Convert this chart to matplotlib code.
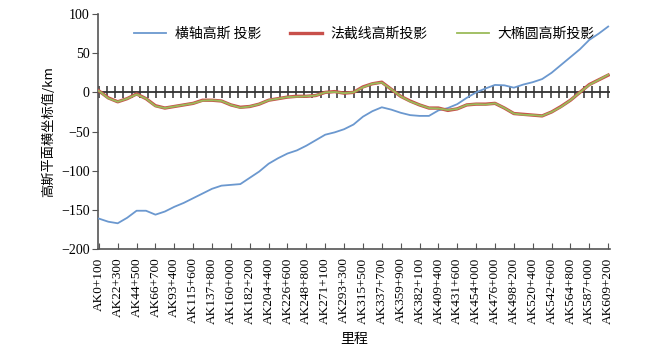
import numpy as np
import matplotlib
matplotlib.use("Agg")
import matplotlib.pyplot as plt

plt.rcParams['font.family'] = ['Liberation Serif', 'Noto Sans CJK SC', 'DejaVu Sans']

labels = ["AK0+100", "AK22+300", "AK44+500", "AK66+700", "AK93+400", "AK115+600",
          "AK137+800", "AK160+000", "AK182+200", "AK204+400", "AK226+600", "AK248+800",
          "AK271+100", "AK293+300", "AK315+500", "AK337+700", "AK359+900", "AK382+100",
          "AK409+400", "AK431+600", "AK454+000", "AK476+000", "AK498+200", "AK520+400",
          "AK542+600", "AK564+800", "AK587+000", "AK609+200"]

# sample positions measured in label steps (half-step sampling)
pos = np.arange(0, 27.01, 0.5)

tm_gauss = [-161, -165, -167, -160, -151, -151, -156, -152, -146, -141,
            -135, -129, -123, -119, -118, -117, -109, -101, -91, -84,
            -78, -74, -68, -61, -54, -51, -47, -41, -31, -24,
            -19, -22, -26, -29, -30, -30, -23, -20, -15, -7,
            0, 5, 9.5, 9, 6, 10, 13, 17, 25, 35,
            45, 55, 67, 75, 84]

normal_gauss = [2, -7, -12, -8, -2, -8, -17, -20, -18, -16,
                -14, -10, -10, -11, -16, -19, -18, -15, -10, -8,
                -6, -5, -5, -4, 0, 1, -1, 0, 7, 11,
                13, 4, -5, -11, -16, -20, -20, -23, -21, -16,
                -15, -15, -14, -20, -27, -28, -29, -30, -25, -18,
                -10, 0, 10, 16, 22]

ellipse_gauss = [2, -7.5, -12, -8, -2.5, -8, -17.5, -20, -18, -16,
                 -14, -10.5, -10, -11, -16, -19.5, -18, -15, -10, -8,
                 -6, -5.5, -5, -4, 0, 0.5, -1, 0, 6.5, 11,
                 12.5, 4, -5, -11.5, -16, -20, -20.5, -22.5, -21, -16,
                 -15, -15.5, -14, -20, -27, -28.5, -29, -30, -25, -18.5,
                 -10, 0, 9.5, 16, 22.5]

series_names = ["横轴高斯 投影", "法截线高斯投影", "大椭圆高斯投影"]

fig = plt.figure(figsize=(6.66, 3.59), dpi=100)
ax = fig.add_axes([0.147, 0.306, 0.769, 0.655])

ax.plot(pos, tm_gauss, color='#6b98cf', lw=1.3, label=series_names[0], zorder=3)
ax.plot(pos, normal_gauss, color='#c8504b', lw=2.4, label=series_names[1], zorder=3)
ax.plot(pos, ellipse_gauss, color='#9bbb59', lw=1.3, label=series_names[2], zorder=4)

# zero axis line with crossing ticks
ax.axhline(0, color='#303030', lw=1.3, zorder=2)
zt = np.linspace(0, 27, 63)
ax.plot(zt, np.zeros_like(zt), ls='none', marker='|', ms=9, mew=1.1, color='#303030', zorder=2)

ax.set_xlim(-0.05, 27.1)
ax.set_ylim(-200, 100)
ax.set_yticks([-200, -150, -100, -50, 0, 50, 100])
ax.set_xticks(range(len(labels)))
ax.set_xticklabels(labels, rotation=90, fontsize=9.5)
for t in ax.get_yticklabels():
    t.set_fontsize(10)

for s in ['top', 'right']:
    ax.spines[s].set_visible(False)
for s in ['left', 'bottom']:
    ax.spines[s].set_color('#555555')
    ax.spines[s].set_linewidth(1.2)
ax.tick_params(axis='x', direction='in', length=4, color='#555555', pad=6)
ax.tick_params(axis='y', direction='out', length=4, color='#555555', pad=2)

ax.set_ylabel("高斯平面横坐标值/km", fontsize=9.5, family=['Noto Sans CJK SC', 'DejaVu Sans'], labelpad=4)
ax.set_xlabel("里程", fontsize=10, family=['Noto Sans CJK SC', 'DejaVu Sans'], labelpad=6)

leg = ax.legend(loc='upper center', bbox_to_anchor=(0.52, 1.0), ncol=3, frameon=False,
                prop={'family': ['Noto Sans CJK SC', 'DejaVu Sans'], 'size': 10},
                handlelength=2.3, columnspacing=2.1, handletextpad=0.6)

fig.savefig("out.png", dpi=100)
